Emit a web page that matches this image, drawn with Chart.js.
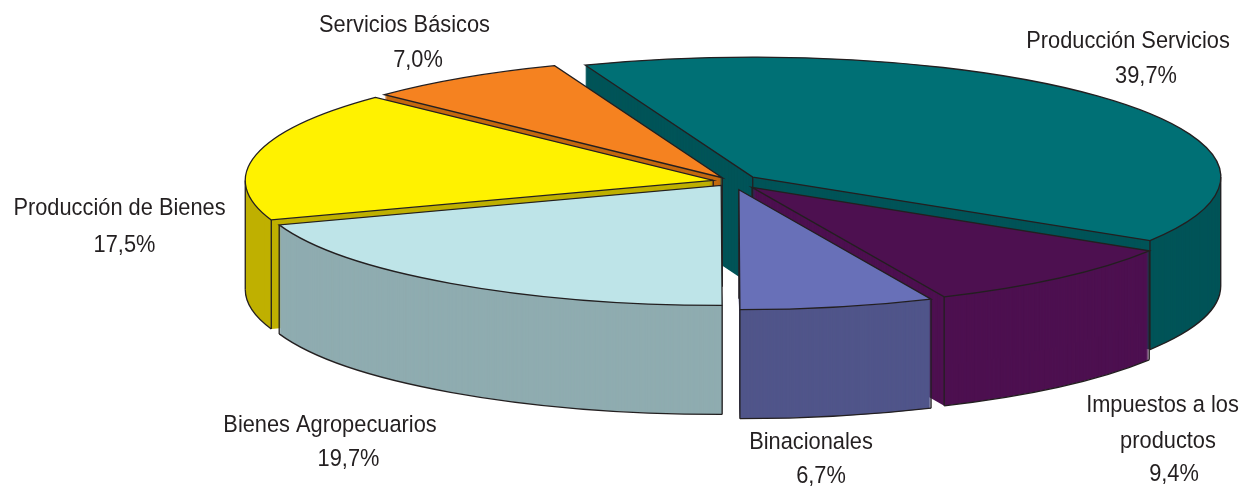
<!DOCTYPE html>
<html><head><meta charset="utf-8">
<style>html,body{margin:0;padding:0;background:#fff}#w{position:relative;width:1242px;height:488px}</style>
<script src="https://cdn.jsdelivr.net/npm/chart.js@4"></script></head>
<body><div id="w"><canvas id="c" width="1242" height="488"></canvas></div>
<script>
const categories = ['Producción Servicios','Impuestos a los productos','Binacionales','Bienes Agropecuarios','Producción de Bienes','Servicios Básicos'];
const shares = [39.7,9.4,6.7,19.7,17.5,7.0];
const shareLabels = ['39,7%','9,4%','6,7%','19,7%','17,5%','7,0%'];
const topColors = ['#007075','#4D1050','#6870B8','#BEE4E8','#FFF200','#F58220'];
const wallColors = ['#005458','#4D1050','#50558A','#8FACB0','#BFB000','#C4690F'];
const explode = [0.0575,0.065,0.07,0.04,0.041,0.0375];
const nameLines = [['Producción Servicios'],['Impuestos a los','productos'],['Binacionales'],['Bienes Agropecuarios'],['Producción de Bienes'],['Servicios Básicos']];
const nameSpots = [[[1128,41]],[[1162.5,405],[1168,441]],[[811,442]],[[330,425]],[[119.5,208]],[[404.5,25]]];
const shareSpots = [[1146,76],[1174,474],[821,476],[348.5,459],[124.5,245],[418,60]];
const paintOrder = [0,5,4,1,3,2];
const RX=468, RY=120, DEPTH=109, CX=732, CY=181.5, EDGE='#231F20';

const pie3d = {
  id:'pie3d',
  beforeDatasetsDraw(chart){
    const ctx=chart.ctx, arcs=chart.getDatasetMeta(0).data;
    for(const i of paintOrder){
      const a=arcs[i], o=a.options;
      const R=a.outerRadius, sx=RX/R, sy=RY/R;
      const a0=a.startAngle, a1=a.startAngle+a.circumference, mid=(a0+a1)/2;
      const ox=CX+Math.cos(mid)*explode[i]*RX, oy=CY+Math.sin(mid)*explode[i]*RY;
      const face=(fill,dy)=>{
        ctx.save();ctx.translate(ox,oy+dy);ctx.scale(sx,sy);ctx.translate(-a.x,-a.y);
        a.options=Object.assign({},o,{backgroundColor:fill,borderColor:fill,borderWidth:0});
        a.draw(ctx);a.options=o;ctx.restore();
      };
      for(let d=DEPTH;d>=1;d-=1) face(wallColors[i],d);
      ctx.save();ctx.strokeStyle=EDGE;ctx.lineWidth=1.3;
      const pts=[a0,a1];
      for(const t of [0,Math.PI]) for(const k of [-1,0,1]){const v=t+k*Math.PI*2; if(v>a0&&v<a1) pts.push(v);}
      for(const t of pts){
        if(Math.sin(t)<-0.01) continue;
        const x=ox+Math.cos(t)*RX, y=oy+Math.sin(t)*RY;
        ctx.beginPath();ctx.moveTo(x,y);ctx.lineTo(x,y+DEPTH);ctx.stroke();
      }
      ctx.beginPath();ctx.moveTo(ox,oy);ctx.lineTo(ox,oy+DEPTH);ctx.stroke();
      for(const k of [-1,0,1]){
        const lo=Math.max(a0,k*Math.PI*2),hi=Math.min(a1,Math.PI+k*Math.PI*2);
        if(hi>lo){ctx.beginPath();ctx.ellipse(ox,oy+DEPTH,RX,RY,0,lo,hi);ctx.stroke();}
      }
      ctx.restore();
      face(topColors[i],0);
      ctx.save();ctx.strokeStyle=EDGE;ctx.lineWidth=1.3;ctx.lineJoin='miter';ctx.beginPath();
      ctx.moveTo(ox,oy);ctx.ellipse(ox,oy,RX,RY,0,a0,a1);ctx.closePath();ctx.stroke();ctx.restore();
    }
    return false;
  },
  afterDraw(chart){
    const ctx=chart.ctx;
    ctx.save();ctx.fillStyle='#231F20';ctx.textAlign='center';ctx.textBaseline='middle';
    ctx.font='24.5px "Liberation Sans"';
    const put=(s,p)=>{ctx.save();ctx.translate(p[0],p[1]);ctx.scale(0.89,1);ctx.fillText(s,0,0);ctx.restore();};
    categories.forEach((c,i)=>{
      nameLines[i].forEach((s,j)=>put(s,nameSpots[i][j]));
      put(shareLabels[i],shareSpots[i]);
    });
    ctx.restore();
  }
};
new Chart(document.getElementById('c'),{
  type:'pie',
  data:{labels:categories,datasets:[{data:shares,backgroundColor:topColors,borderWidth:0}]},
  options:{responsive:false,animation:false,rotation:-21,radius:200,layout:{padding:0},
    plugins:{legend:{display:false},tooltip:{enabled:false}},events:[]},
  plugins:[pie3d]
});
</script></body></html>
